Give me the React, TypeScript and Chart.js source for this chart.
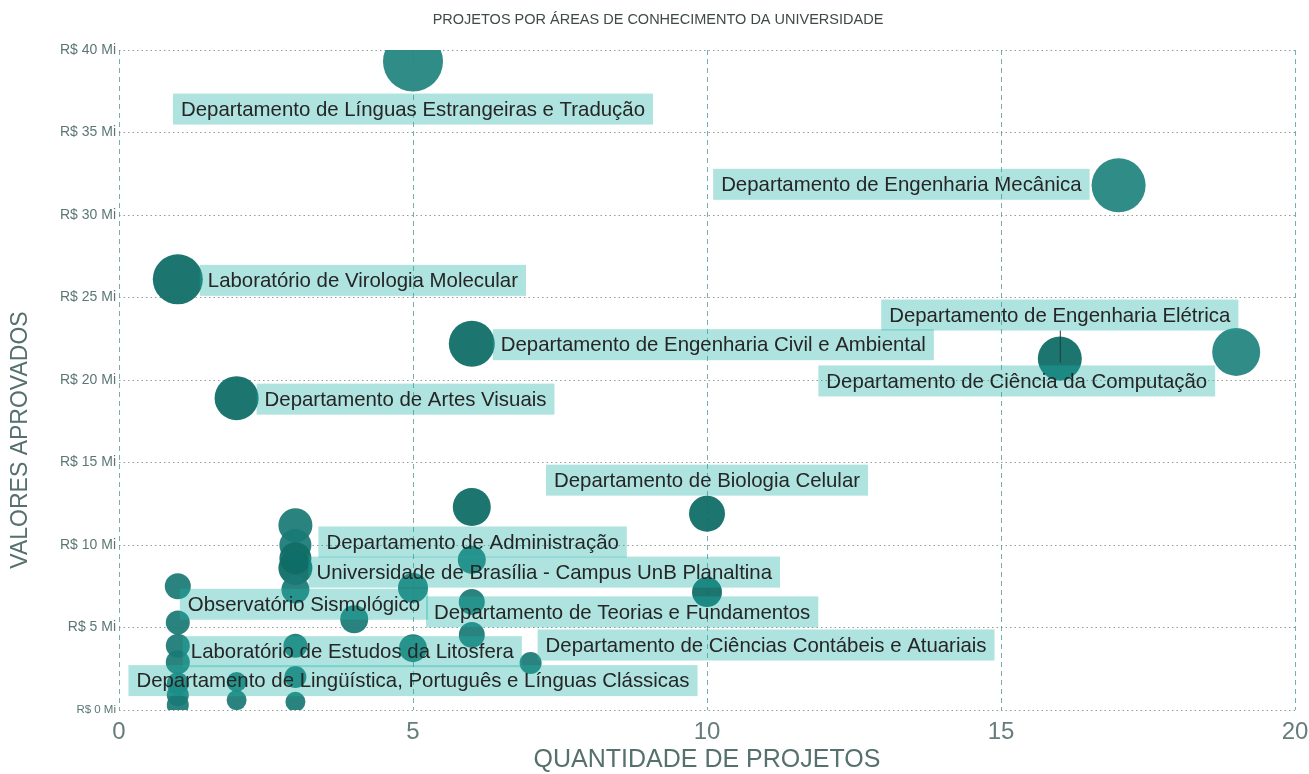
import React, { useEffect, useRef } from "react";
import { Chart, registerables } from "chart.js";

Chart.register(...registerables);

// ---------- text ----------
const chartTitle = "PROJETOS POR ÁREAS DE CONHECIMENTO DA UNIVERSIDADE";
const xAxisTitle = "QUANTIDADE DE PROJETOS";
const yAxisTitle = "VALORES APROVADOS";

// ---------- axes ----------
const xMin = 0;
const xMax = 20;
const xStep = 5;
const yMin = 0;
const yMax = 40;
const yStep = 5;

// ---------- data ----------
const areaNames: string[] = [
  "Departamento de Línguas Estrangeiras e Tradução",
  "Departamento de Engenharia Mecânica",
  "Laboratório de Virologia Molecular",
  "Departamento de Engenharia Civil e Ambiental",
  "Departamento de Engenharia Elétrica",
  "Departamento de Ciência da Computação",
  "Departamento de Artes Visuais",
  "Departamento de Biologia Celular",
  "",
  "",
  "Departamento de Administração",
  "",
  "Universidade de Brasília - Campus UnB Planaltina",
  "",
  "Observatório Sismológico",
  "Departamento de Teorias e Fundamentos",
  "",
  "",
  "",
  "",
  "",
  "",
  "Laboratório de Estudos da Litosfera",
  "",
  "Departamento de Lingüística, Português e Línguas Clássicas",
  "",
  "Departamento de Ciências Contábeis e Atuariais",
  "",
  "",
  "",
  "",
  "",
  "",
  "",
];

const quantidadeProjetos: number[] = [
  5, 17, 1, 6, 16, 19, 2, 10, 6, 3, 3, 3, 3, 3, 1, 5, 10, 6, 6, 4, 1, 6, 1, 3, 5, 1, 7, 3, 2, 1, 1, 2, 3, 1,
];

const valoresAprovadosMi: number[] = [
  39.3, 31.8, 26.1, 22.2, 21.3, 21.7, 18.9, 11.9, 12.3, 11.2, 10.0, 9.2, 8.6, 7.3, 7.5, 7.4, 7.15, 9.1, 6.55,
  5.5, 5.3, 4.55, 3.9, 3.9, 3.75, 2.9, 2.85, 2.0, 1.7, 1.6, 0.9, 0.6, 0.5, 0.3,
];

// bubble size measure (rendered radius)
const bubbleSize: number[] = [
  30, 27, 25, 23, 22, 24, 22, 18, 19, 17, 16, 16, 17, 14, 13, 15, 15, 14, 13, 14, 12, 13, 12, 12, 14, 12, 11,
  11, 10, 11, 11, 10, 10, 11,
];

// ---------- styles (separate from data) ----------
const shade: string[] = [
  "L", "L", "D", "D", "D", "L", "D", "D", "D", "M", "M", "D", "D", "M", "M", "M", "D", "M", "M",
  "M", "M", "M", "M", "M", "M", "M", "M", "M", "M", "M", "M", "M", "M", "M",
];
const shadeColors: Record<string, string> = {
  L: "rgba(40,136,130,0.97)",
  D: "rgba(16,110,103,0.95)",
  M: "rgba(26,122,116,0.93)",
};

type Placement = { side: "right" | "left" | "above" | "below"; gap: number; dx?: number; dy?: number; leader?: boolean };
const labelPlacement: Record<number, Placement> = {
  0: { side: "below", gap: 2 },
  1: { side: "left", gap: 2, dy: -1 },
  2: { side: "right", gap: -3, dy: 1 },
  3: { side: "right", gap: -2, dy: 1 },
  4: { side: "above", gap: 6, leader: true },
  5: { side: "left", gap: -3, dy: 29 },
  6: { side: "right", gap: -2, dy: 1 },
  7: { side: "above", gap: 0 },
  10: { side: "right", gap: 7, dy: -3 },
  12: { side: "right", gap: -4, dy: 4 },
  14: { side: "right", gap: -11, dy: 18 },
  15: { side: "right", gap: -2, dy: 24 },
  22: { side: "right", gap: -7, dy: 6 },
  24: { side: "below", gap: 3 },
  26: { side: "right", gap: -4, dy: -18 },
};

const FONT = "Arial, 'Liberation Sans', sans-serif";
const LABEL_FONT = `20.4px ${FONT}`;
const LABEL_PAD_X = 8;
const LABEL_BOX_H = 31;

const labelPlugin = {
  id: "bubbleLabels",
  afterDatasetsDraw(chart: any) {
    const meta = chart.getDatasetMeta(0);
    const ctx: CanvasRenderingContext2D = chart.ctx;
    ctx.save();
    ctx.font = LABEL_FONT;
    ctx.textBaseline = "middle";
    ctx.textAlign = "left";
    areaNames.forEach((name, i) => {
      const pl = labelPlacement[i];
      if (!name || !pl) return;
      const el = meta.data[i];
      const px = el.x;
      const py = el.y;
      const r = bubbleSize[i];
      const tw = ctx.measureText(name).width;
      const w = tw + 2 * LABEL_PAD_X;
      const h = LABEL_BOX_H;
      let left = 0;
      let top = 0;
      if (pl.side === "right") {
        left = px + r + pl.gap;
        top = py - h / 2;
      } else if (pl.side === "left") {
        left = px - r - pl.gap - w;
        top = py - h / 2;
      } else if (pl.side === "above") {
        left = px - w / 2;
        top = py - r - pl.gap - h;
      } else {
        left = px - w / 2;
        top = py + r + pl.gap;
      }
      left += pl.dx || 0;
      top += pl.dy || 0;
      ctx.fillStyle = "rgba(30,178,165,0.36)";
      ctx.fillRect(left, top, w, h);
      if (pl.leader) {
        ctx.strokeStyle = "#1d3f3c";
        ctx.lineWidth = 1;
        ctx.beginPath();
        ctx.moveTo(px + 0.5, top + h);
        ctx.lineTo(px + 0.5, py + 4);
        ctx.stroke();
      }
      ctx.fillStyle = "#262626";
      ctx.fillText(name, left + LABEL_PAD_X, top + h / 2 + 1);
    });
    ctx.restore();
  },
};

const titlesPlugin = {
  id: "titles",
  afterDraw(chart: any) {
    const ctx: CanvasRenderingContext2D = chart.ctx;
    const area = chart.chartArea;
    ctx.save();
    ctx.textAlign = "center";
    ctx.textBaseline = "middle";
    ctx.fillStyle = "#3f4b4a";
    ctx.font = `14.5px ${FONT}`;
    ctx.fillText(chartTitle, 658, 20);

    ctx.fillStyle = "#55706d";
    ctx.font = `25px ${FONT}`;
    ctx.fillText(xAxisTitle, (area.left + area.right) / 2, 760);

    ctx.translate(21, 440);
    ctx.rotate(-Math.PI / 2);
    ctx.font = `23px ${FONT}`;
    ctx.fillText(yAxisTitle, 0, 0);
    ctx.restore();
  },
};

export default function App() {
  const canvasRef = useRef<HTMLCanvasElement | null>(null);

  useEffect(() => {
    if (!canvasRef.current) return;
    const points = quantidadeProjetos.map((x, i) => ({ x, y: valoresAprovadosMi[i], r: bubbleSize[i] }));
    const chart = new Chart(canvasRef.current, {
      type: "bubble",
      data: {
        datasets: [
          {
            label: "Áreas",
            data: points,
            backgroundColor: shade.map((s) => shadeColors[s]),
            borderWidth: 0,
            hoverBorderWidth: 0,
            clip: 0,
          } as any,
        ],
      },
      options: {
        responsive: false,
        animation: false,
        events: [],
        layout: { autoPadding: false, padding: { top: 50, right: 14, bottom: 0, left: 0 } },
        plugins: {
          legend: { display: false },
          title: { display: false },
          tooltip: { enabled: false },
        },
        scales: {
          x: {
            type: "linear",
            min: xMin,
            max: xMax,
            ticks: {
              stepSize: xStep,
              padding: 8,
              color: "#667d7b",
              font: { family: FONT, size: 24 },
            },
            grid: { color: "rgba(70,150,145,0.75)", lineWidth: 1, drawTicks: false },
            border: { display: false, dash: [5, 4] },
            afterFit: (scale: any) => {
              scale.height = 64;
              scale.paddingLeft = 0;
              scale.paddingRight = 0;
            },
          },
          y: {
            type: "linear",
            min: yMin,
            max: yMax,
            ticks: {
              stepSize: yStep,
              padding: 3,
              color: "#5b7774",
              font: (c: any) => ({ family: FONT, size: c.tick && c.tick.value === 0 ? 11.5 : 14 }),
              callback: (v: any) => `R$ ${v} Mi`,
            },
            grid: { color: "rgba(120,130,130,0.8)", lineWidth: 1, drawTicks: false },
            border: { display: false, dash: [1.5, 3] },
            afterFit: (scale: any) => {
              scale.width = 119;
              scale.paddingTop = 0;
              scale.paddingBottom = 0;
            },
          },
        },
      } as any,
      plugins: [labelPlugin, titlesPlugin],
    });
    return () => chart.destroy();
  }, []);

  return (
    <div style={{ position: "fixed", left: 0, top: 0, width: 1309, height: 774, background: "#fff" }}>
      <canvas ref={canvasRef} width={1309} height={774} style={{ width: 1309, height: 774, display: "block" }} />
    </div>
  );
}
